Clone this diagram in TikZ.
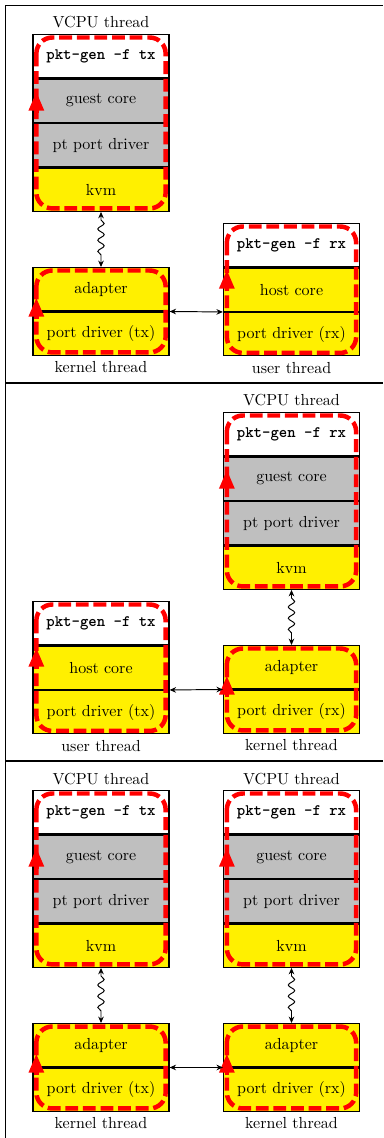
\documentclass[tikz,border=0pt]{standalone}
\usepackage{tikz}
\usetikzlibrary{arrows.meta,calc,positioning,decorations.pathmorphing}
\usepackage{xcolor}
\definecolor{hostyellow}{RGB}{255,240,0}

\begin{document}
\begin{tikzpicture}[x=0.625pt, y=-0.625pt,
  layer/.style={draw, thick, minimum width=85pt, minimum height=27pt, inner sep=0pt},
  app/.style={layer, fill=white, font=\ttfamily\bfseries},
  guest/.style={layer, fill=lightgray},
  host/.style={layer, fill=hostyellow},
  flow/.style={draw=red, line width=2.8pt, dash pattern=on 8pt off 3pt, rounded corners=10pt},
  flowtip/.style={red, line width=2.8pt, -{Triangle[length=12pt,width=9pt]}},
  link/.style={{Stealth[length=4pt,width=3.5pt]}-{Stealth[length=4pt,width=3.5pt]}, semithick},
  wavy/.style={link, decorate, decoration={snake, amplitude=2pt, segment length=7pt, pre length=5pt, post length=5pt}}]
\useasboundingbox (0,0) rectangle (383,1138);
% --- cornice della tabella ---
\draw[line width=0.6pt] (5,1138) -- (5,5) -- (383,5);
\draw[line width=1.2pt] (5,383) -- (383,383);
\draw[line width=1.2pt] (5,761) -- (383,761);

% --- caso 1: tx nella VM, rx nell'host ---
\node[app, anchor=north] (pkt1tx) at (101,34) {pkt-gen -f tx};
\node[guest, below=0pt of pkt1tx] (guest1tx) {guest core};
\node[guest, below=0pt of guest1tx] (ptd1tx) {pt port driver};
\node[host, below=0pt of ptd1tx] (kvm1tx) {kvm};
\node[above=0pt of pkt1tx] (vcpu1tx) {VCPU thread};
\draw[flow] ($(pkt1tx.north west)+(4,3.5)$) rectangle ($(kvm1tx.south east)+(-4,-3.5)$);
\draw[flowtip] ($(guest1tx.north west)+(4,35)$) -- ($(guest1tx.north west)+(4,13)$);

\node[host, anchor=north] (adp1tx) at (101,267) {adapter};
\node[host, below=0pt of adp1tx] (drv1tx) {port driver (tx)};
\node[below=0pt of drv1tx] (kth1tx) {kernel thread};
\draw[flow] ($(adp1tx.north west)+(4,3.5)$) rectangle ($(drv1tx.south east)+(-4,-3.5)$);
\draw[flowtip] ($(adp1tx.south west)+(4,8)$) -- ($(adp1tx.south west)+(4,-14)$);

\node[app, anchor=north] (pkt1rx) at (291.5,223) {pkt-gen -f rx};
\node[host, below=0pt of pkt1rx] (host1rx) {host core};
\node[host, below=0pt of host1rx] (drv1rx) {port driver (rx)};
\node[below=0pt of drv1rx] (uth1rx) {user thread};
\draw[flow] ($(pkt1rx.north west)+(4,3.5)$) rectangle ($(drv1rx.south east)+(-4,-3.5)$);
\draw[flowtip] ($(host1rx.north west)+(4,24)$) -- ($(host1rx.north west)+(4,2)$);

\draw[wavy] (kvm1tx) -- (adp1tx);
\draw[link] (adp1tx.south east) -- (host1rx.south west);

% --- caso 2: tx nell'host, rx nella VM ---
\node[app, anchor=north] (pkt2tx) at (101,601) {pkt-gen -f tx};
\node[host, below=0pt of pkt2tx] (host2tx) {host core};
\node[host, below=0pt of host2tx] (drv2tx) {port driver (tx)};
\node[below=0pt of drv2tx] (uth2tx) {user thread};
\draw[flow] ($(pkt2tx.north west)+(4,3.5)$) rectangle ($(drv2tx.south east)+(-4,-3.5)$);
\draw[flowtip] ($(host2tx.north west)+(4,24)$) -- ($(host2tx.north west)+(4,2)$);

\node[app, anchor=north] (pkt2rx) at (291.5,412) {pkt-gen -f rx};
\node[guest, below=0pt of pkt2rx] (guest2rx) {guest core};
\node[guest, below=0pt of guest2rx] (ptd2rx) {pt port driver};
\node[host, below=0pt of ptd2rx] (kvm2rx) {kvm};
\node[above=0pt of pkt2rx] (vcpu2rx) {VCPU thread};
\draw[flow] ($(pkt2rx.north west)+(4,3.5)$) rectangle ($(kvm2rx.south east)+(-4,-3.5)$);
\draw[flowtip] ($(guest2rx.north west)+(4,35)$) -- ($(guest2rx.north west)+(4,13)$);

\node[host, anchor=north] (adp2rx) at (291.5,645) {adapter};
\node[host, below=0pt of adp2rx] (drv2rx) {port driver (rx)};
\node[below=0pt of drv2rx] (kth2rx) {kernel thread};
\draw[flow] ($(adp2rx.north west)+(4,3.5)$) rectangle ($(drv2rx.south east)+(-4,-3.5)$);
\draw[flowtip] ($(adp2rx.south west)+(4,8)$) -- ($(adp2rx.south west)+(4,-14)$);

\draw[wavy] (kvm2rx) -- (adp2rx);
\draw[link] (host2tx.south east) -- (adp2rx.south west);

% --- caso 3: tx e rx in due VM ---
\node[app, anchor=north] (pkt3tx) at (101,790) {pkt-gen -f tx};
\node[guest, below=0pt of pkt3tx] (guest3tx) {guest core};
\node[guest, below=0pt of guest3tx] (ptd3tx) {pt port driver};
\node[host, below=0pt of ptd3tx] (kvm3tx) {kvm};
\node[above=0pt of pkt3tx] (vcpu3tx) {VCPU thread};
\draw[flow] ($(pkt3tx.north west)+(4,3.5)$) rectangle ($(kvm3tx.south east)+(-4,-3.5)$);
\draw[flowtip] ($(guest3tx.north west)+(4,35)$) -- ($(guest3tx.north west)+(4,13)$);

\node[app, anchor=north] (pkt3rx) at (291.5,790) {pkt-gen -f rx};
\node[guest, below=0pt of pkt3rx] (guest3rx) {guest core};
\node[guest, below=0pt of guest3rx] (ptd3rx) {pt port driver};
\node[host, below=0pt of ptd3rx] (kvm3rx) {kvm};
\node[above=0pt of pkt3rx] (vcpu3rx) {VCPU thread};
\draw[flow] ($(pkt3rx.north west)+(4,3.5)$) rectangle ($(kvm3rx.south east)+(-4,-3.5)$);
\draw[flowtip] ($(guest3rx.north west)+(4,35)$) -- ($(guest3rx.north west)+(4,13)$);

\node[host, anchor=north] (adp3tx) at (101,1023) {adapter};
\node[host, below=0pt of adp3tx] (drv3tx) {port driver (tx)};
\node[below=0pt of drv3tx] (kth3tx) {kernel thread};
\draw[flow] ($(adp3tx.north west)+(4,3.5)$) rectangle ($(drv3tx.south east)+(-4,-3.5)$);
\draw[flowtip] ($(adp3tx.south west)+(4,8)$) -- ($(adp3tx.south west)+(4,-14)$);

\node[host, anchor=north] (adp3rx) at (291.5,1023) {adapter};
\node[host, below=0pt of adp3rx] (drv3rx) {port driver (rx)};
\node[below=0pt of drv3rx] (kth3rx) {kernel thread};
\draw[flow] ($(adp3rx.north west)+(4,3.5)$) rectangle ($(drv3rx.south east)+(-4,-3.5)$);
\draw[flowtip] ($(adp3rx.south west)+(4,8)$) -- ($(adp3rx.south west)+(4,-14)$);

\draw[wavy] (kvm3tx) -- (adp3tx);
\draw[wavy] (kvm3rx) -- (adp3rx);
\draw[link] (adp3tx.south east) -- (adp3rx.south west);
\end{tikzpicture}
\end{document}
